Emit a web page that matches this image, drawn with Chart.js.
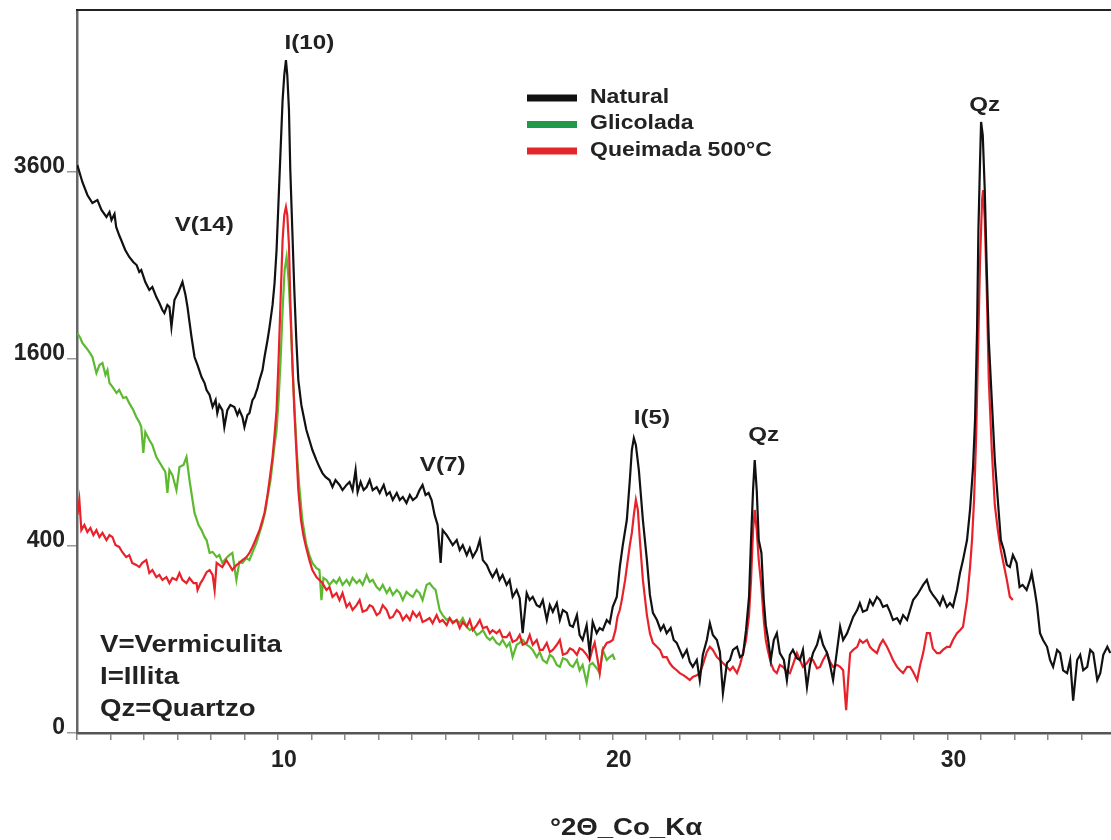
<!DOCTYPE html>
<html>
<head>
<meta charset="utf-8">
<script src="https://cdn.jsdelivr.net/npm/chart.js@4.4.1/dist/chart.umd.min.js"></script>
<style>
html,body{margin:0;padding:0;background:#fff}
canvas{display:block}
</style>
</head>
<body>
<canvas id="myChart" width="1111" height="840"></canvas>
<script>
// 2theta (Co K alpha) and counts
var natTheta = [4.01,4.16,4.31,4.46,4.61,4.73,4.88,4.97,5.03,5.12,5.17,5.26,5.32,5.44,5.56,5.68,5.78,5.86,5.92,6.04,
6.16,6.25,6.37,6.46,6.55,6.61,6.70,6.76,6.82,6.91,7.03,7.15,7.24,7.30,7.36,7.42,7.51,7.60,7.72,7.81,
7.87,7.96,8.05,8.14,8.19,8.25,8.34,8.40,8.49,8.58,8.70,8.79,8.85,8.94,9.00,9.09,9.15,9.24,9.30,9.39,
9.45,9.54,9.60,9.69,9.75,9.84,9.90,9.96,10.02,10.08,10.14,10.19,10.24,10.28,10.33,10.37,10.43,10.49,10.55,10.61,
10.70,10.79,10.85,10.94,11.03,11.15,11.24,11.33,11.42,11.54,11.63,11.72,11.84,11.93,12.05,12.14,12.23,12.32,12.38,12.47,
12.56,12.65,12.74,12.83,12.95,13.04,13.16,13.25,13.34,13.43,13.55,13.64,13.73,13.84,13.94,14.03,14.14,14.23,14.32,14.41,
14.50,14.59,14.68,14.77,14.86,14.92,15.04,15.13,15.22,15.34,15.43,15.52,15.64,15.73,15.82,15.94,16.03,16.12,16.24,16.33,
16.41,16.53,16.62,16.71,16.83,16.92,17.01,17.13,17.22,17.31,17.43,17.52,17.61,17.73,17.82,17.91,18.03,18.12,18.21,18.33,
18.42,18.51,18.63,18.72,18.81,18.93,19.01,19.10,19.22,19.31,19.40,19.52,19.61,19.70,19.82,19.91,20.00,20.12,20.21,20.30,
20.42,20.51,20.57,20.63,20.69,20.78,20.90,21.02,21.11,21.20,21.32,21.43,21.52,21.61,21.73,21.82,21.91,22.00,22.09,22.21,
22.30,22.39,22.51,22.60,22.69,22.81,22.90,22.99,23.11,23.20,23.29,23.41,23.50,23.59,23.71,23.80,23.89,23.98,24.07,24.13,
24.19,24.24,24.30,24.36,24.44,24.51,24.57,24.63,24.72,24.81,24.90,24.99,25.11,25.20,25.29,25.38,25.50,25.59,25.68,25.80,
25.89,25.98,26.10,26.19,26.28,26.40,26.49,26.58,26.70,26.79,26.88,27.00,27.09,27.18,27.30,27.38,27.47,27.59,27.68,27.77,
27.89,27.98,28.07,28.19,28.28,28.37,28.49,28.58,28.67,28.79,28.88,28.97,29.09,29.18,29.27,29.38,29.47,29.56,29.68,29.77,
29.86,29.98,30.07,30.16,30.28,30.37,30.46,30.58,30.67,30.76,30.82,30.88,30.92,30.97,31.00,31.05,31.11,31.17,31.23,31.32,
31.41,31.50,31.59,31.68,31.77,31.86,31.95,32.06,32.15,32.24,32.36,32.46,32.51,32.60,32.67,32.76,32.85,32.97,33.06,33.15,
33.27,33.36,33.45,33.57,33.66,33.75,33.87,33.96,34.05,34.17,34.26,34.35,34.47,34.56,34.65,34.77,34.86];
var natCounts = [3690,3473,3311,3213,3250,3129,3046,3105,3010,3081,2929,2834,2780,2669,2592,2538,2505,2431,2452,2327,
2245,2275,2174,2115,2047,2018,2096,2076,1885,2145,2225,2327,2194,2076,1932,1794,1617,1549,1450,1401,
1346,1307,1216,1268,1171,1231,1193,1071,1193,1231,1216,1157,1193,1142,1071,1157,1171,1268,1291,1361,
1425,1507,1617,1767,1885,2096,2316,2669,3250,3888,4583,4952,5181,4952,4440,3626,2894,2245,1767,1425,
1231,1121,1050,982,916,852,809,773,750,732,692,732,704,675,704,721,675,791,664,721,
675,692,732,675,692,659,704,648,664,621,659,621,637,605,648,621,637,675,704,648,
659,621,544,495,331,471,448,426,404,426,383,404,362,391,354,383,426,342,323,296,
278,304,268,286,251,268,212,234,208,114,224,202,212,187,182,202,146,187,168,193,
146,173,165,133,129,159,110,99,133,73,141,114,126,121,146,138,182,212,315,404,
519,732,916,995,949,791,519,342,218,165,146,121,133,114,126,99,93,79,66,79,
58,50,61,32,70,99,138,110,99,75,18,56,61,79,85,66,70,121,212,426,
675,852,675,426,371,202,133,105,61,99,114,73,61,32,70,79,64,61,79,24,
53,73,89,114,89,73,53,32,79,129,99,114,133,154,173,193,168,173,202,187,
212,202,182,187,168,146,151,138,159,146,173,202,218,234,251,268,234,218,202,187,
212,182,193,182,234,293,342,426,569,809,1121,1858,2894,3756,4271,4091,3373,2452,1767,1268,
852,621,426,383,323,315,362,331,244,251,234,268,293,234,187,114,99,85,61,50,
79,73,45,41,61,12,61,70,45,50,79,73,32,41,70,85,73];

var gliTheta = [4.01,4.10,4.16,4.28,4.37,4.46,4.52,4.58,4.67,4.76,4.85,4.91,4.97,5.06,5.18,5.26,5.38,5.47,5.56,5.68,
5.77,5.86,5.92,5.98,6.04,6.16,6.25,6.37,6.46,6.55,6.64,6.70,6.76,6.85,6.97,7.06,7.18,7.27,7.36,7.45,
7.51,7.63,7.72,7.81,7.87,7.96,8.05,8.17,8.25,8.34,8.46,8.55,8.64,8.76,8.85,8.94,9.06,9.15,9.27,9.36,
9.45,9.54,9.63,9.69,9.78,9.84,9.90,9.96,10.02,10.08,10.14,10.20,10.26,10.32,10.38,10.44,10.50,10.56,10.64,10.73,
10.84,10.94,11.03,11.15,11.24,11.30,11.36,11.45,11.54,11.66,11.75,11.84,11.93,12.05,12.14,12.23,12.35,12.44,12.53,12.65,
12.74,12.83,12.95,13.04,13.13,13.25,13.34,13.43,13.55,13.64,13.73,13.84,13.94,14.03,14.14,14.23,14.32,14.44,14.53,14.62,
14.71,14.77,14.83,14.92,15.04,15.13,15.22,15.34,15.43,15.52,15.64,15.73,15.82,15.94,16.03,16.12,16.24,16.33,16.41,16.53,
16.62,16.71,16.83,16.92,17.01,17.13,17.22,17.31,17.43,17.52,17.61,17.73,17.82,17.91,18.03,18.12,18.21,18.33,18.42,18.51,
18.63,18.72,18.81,18.93,19.01,19.10,19.22,19.31,19.40,19.52,19.61,19.70,19.82,19.91,20.00,20.06];
var gliCounts = [1830,1785,1740,1696,1660,1617,1549,1482,1549,1566,1466,1507,1401,1370,1322,1346,1284,1291,1245,1193,
1142,1106,1071,897,1036,982,949,871,840,809,779,659,791,761,675,809,822,871,732,621,
554,495,471,439,426,371,375,354,362,331,350,362,371,268,335,331,350,342,383,413,
458,504,569,637,732,834,949,1050,1268,1591,2047,2452,2592,2347,1951,1507,1193,916,692,519,
413,362,331,311,304,202,275,268,251,268,257,275,251,268,251,275,257,268,251,286,
261,268,244,234,251,224,240,218,234,224,202,228,218,212,234,224,202,251,257,244,
234,202,173,159,146,151,141,146,138,151,129,121,126,110,114,121,105,99,105,93,
89,99,85,93,66,89,93,99,89,85,79,66,75,61,56,70,66,53,50,64,
61,53,50,61,45,53,29,53,56,48,41,79,61,66,70,61];

var queTheta = [4.01,4.07,4.13,4.22,4.31,4.40,4.49,4.58,4.67,4.76,4.88,4.97,5.06,5.15,5.26,5.35,5.47,5.56,5.65,5.77,
5.86,5.95,6.07,6.16,6.25,6.37,6.46,6.55,6.67,6.76,6.85,6.97,7.06,7.15,7.27,7.36,7.48,7.57,7.60,7.69,
7.75,7.87,7.96,8.05,8.11,8.17,8.25,8.34,8.46,8.55,8.64,8.76,8.85,8.94,9.06,9.15,9.24,9.33,9.45,9.54,
9.60,9.69,9.75,9.84,9.90,9.96,10.02,10.08,10.14,10.19,10.24,10.28,10.33,10.37,10.43,10.49,10.55,10.61,10.69,10.76,
10.84,10.94,11.03,11.15,11.24,11.33,11.45,11.54,11.63,11.75,11.84,11.93,12.05,12.14,12.23,12.35,12.44,12.53,12.65,12.74,
12.83,12.95,13.04,13.13,13.25,13.34,13.43,13.55,13.64,13.73,13.84,13.94,14.03,14.14,14.23,14.32,14.44,14.53,14.62,14.74,
14.83,14.92,15.04,15.13,15.22,15.34,15.43,15.52,15.64,15.73,15.82,15.94,16.03,16.12,16.24,16.33,16.41,16.53,16.62,16.71,
16.83,16.92,17.01,17.13,17.22,17.31,17.43,17.52,17.61,17.73,17.82,17.91,18.03,18.12,18.21,18.33,18.42,18.51,18.63,18.72,
18.81,18.93,19.01,19.10,19.22,19.31,19.40,19.46,19.55,19.61,19.70,19.82,19.91,20.00,20.08,20.14,20.21,20.27,20.37,20.42,
20.51,20.57,20.63,20.69,20.75,20.81,20.90,21.02,21.11,21.20,21.32,21.41,21.50,21.61,21.70,21.79,21.91,22.00,22.12,22.21,
22.30,22.39,22.51,22.60,22.69,22.81,22.90,22.99,23.11,23.20,23.29,23.41,23.50,23.59,23.71,23.80,23.89,23.98,24.07,24.13,
24.19,24.24,24.30,24.36,24.44,24.51,24.57,24.63,24.72,24.81,24.90,24.99,25.08,25.20,25.29,25.38,25.50,25.59,25.68,25.80,
25.89,25.98,26.10,26.19,26.28,26.40,26.49,26.58,26.70,26.79,26.88,26.97,27.03,27.09,27.18,27.30,27.38,27.47,27.59,27.68,
27.77,27.89,27.98,28.07,28.19,28.28,28.37,28.49,28.58,28.67,28.79,28.88,28.97,29.09,29.18,29.27,29.38,29.47,29.56,29.68,
29.77,29.86,29.98,30.07,30.16,30.28,30.37,30.46,30.58,30.67,30.73,30.79,30.85,30.91,30.97,31.03,31.06,31.11,31.17,31.23,
31.32,31.41,31.50,31.59,31.68,31.77,31.86,31.95];
var queCounts = [544,621,471,495,462,481,448,471,439,458,426,448,439,404,396,375,354,362,331,323,
315,331,342,293,304,278,286,268,278,257,275,268,293,268,257,275,257,257,234,257,
268,296,304,286,234,331,323,315,342,323,304,323,331,342,354,371,396,426,471,519,
554,648,732,871,1016,1193,1591,2145,2780,3069,3165,3069,2724,2145,1591,1193,916,675,519,448,
396,342,304,278,268,257,234,244,212,224,202,224,182,193,173,187,202,168,173,187,
182,159,165,187,173,151,154,173,165,146,159,146,168,154,165,141,146,151,138,159,
141,146,133,151,138,146,126,141,129,146,121,133,146,126,129,114,121,114,121,105,
105,114,95,99,110,89,93,110,89,99,79,79,93,75,79,89,99,70,73,82,
79,70,82,79,70,61,82,93,61,41,79,93,95,99,121,154,173,202,268,315,
404,458,544,621,569,426,268,159,114,93,85,79,66,66,56,50,45,41,38,35,
32,36,38,41,53,75,85,79,66,61,56,50,45,50,41,53,73,99,159,268,
471,569,471,342,244,146,99,79,56,45,41,53,50,43,41,53,73,61,50,56,
64,61,48,50,61,73,58,50,53,50,45,6,32,73,79,85,99,93,99,85,
79,73,89,99,85,73,61,50,45,41,50,50,43,32,53,73,114,114,82,73,
73,79,85,85,99,114,121,129,202,315,426,621,982,1678,2559,3250,3373,3010,2245,1425,
916,595,471,383,323,268,212,202];

var seriesNames = ['Natural', 'Glicolada', 'Queimada 500°C'];
var lineColors = ['#111111', '#5cb930', '#e8222a'];
var legendColors = ['#111111', '#1f9a4a', '#e3262b'];

// y axis is square-root of counts, labelled in counts
var yTickCounts = [0, 400, 1600, 3600];
var xTickLabels = [10, 20, 30];

// peak labels: text, 2theta, counts at the text centre
var peakText = ['I(10)', 'V(14)', 'V(7)', 'I(5)', 'Qz', 'Qz'];
var peakTheta = [10.94, 7.80, 14.92, 21.17, 24.51, 31.11];
var peakCounts = [5446, 2952, 822, 1135, 1016, 4512];

var notes = ['V=Vermiculita', 'I=Illita', 'Qz=Quartzo'];

function toPoints(th, cts) {
    var out = [];
    for (var i = 0; i < th.length; i++) {
        out.push({x: th[i], y: Math.sqrt(cts[i])});
    }
    return out;
}

var FONT = '"Liberation Sans", Arial, Helvetica, sans-serif';

function wideText(ctx, str, x, y, size, align, base) {
    ctx.save();
    ctx.font = 'bold ' + size + 'px ' + FONT;
    ctx.fillStyle = '#222';
    ctx.translate(x, y);
    ctx.scale(1.15, 1);
    ctx.textAlign = align;
    ctx.textBaseline = base;
    ctx.fillText(str, 0, 0);
    ctx.restore();
}

var decor = {
    id: 'decor',
    afterDraw: function(chart) {
        var ctx = chart.ctx, a = chart.chartArea;
        var xs = chart.scales.x, ys = chart.scales.y;
        // top frame line
        ctx.save();
        ctx.strokeStyle = '#222';
        ctx.lineWidth = 2;
        ctx.beginPath();
        ctx.moveTo(a.left - 1, a.top);
        ctx.lineTo(a.right, a.top);
        ctx.stroke();
        ctx.restore();

        // legend
        for (var i = 0; i < seriesNames.length; i++) {
            var ly = 98 + i * 26.5;
            ctx.save();
            ctx.strokeStyle = legendColors[i];
            ctx.lineWidth = 7;
            ctx.beginPath();
            ctx.moveTo(527, ly);
            ctx.lineTo(577, ly);
            ctx.stroke();
            ctx.restore();
            wideText(ctx, seriesNames[i], 590, ly - 1, 20, 'left', 'middle');
        }

        // peak labels
        for (var j = 0; j < peakText.length; j++) {
            wideText(ctx, peakText[j], xs.getPixelForValue(peakTheta[j]),
                ys.getPixelForValue(Math.sqrt(peakCounts[j])), 21, 'center', 'middle');
        }

        // mineral key
        for (var k = 0; k < notes.length; k++) {
            wideText(ctx, notes[k], 100, 652 + k * 32, 24, 'left', 'alphabetic');
        }

        // axis title
        wideText(ctx, '°2Θ_Co_Kα', 626, 828, 24, 'center', 'middle');
    }
};

var data = {
    datasets: [
        {label: seriesNames[0], data: toPoints(natTheta, natCounts), borderColor: lineColors[0], order: 0},
        {label: seriesNames[1], data: toPoints(gliTheta, gliCounts), borderColor: lineColors[1], order: 2},
        {label: seriesNames[2], data: toPoints(queTheta, queCounts), borderColor: lineColors[2], order: 1}
    ]
};
data.datasets.forEach(function(d) {
    d.borderWidth = 2.2;
    d.pointRadius = 0;
    d.tension = 0;
    d.fill = false;
});

var config = {
    type: 'line',
    data: data,
    options: {
        responsive: false,
        animation: false,
        layout: {padding: {top: 10, right: 0, left: 0, bottom: 0}},
        plugins: {
            legend: {display: false},
            tooltip: {enabled: false}
        },
        scales: {
            x: {
                type: 'linear',
                min: 4,
                max: 34.88,
                ticks: {
                    stepSize: 1,
                    includeBounds: false,
                    autoSkip: false,
                    maxRotation: 0,
                    labelOffset: 6,
                    padding: 7,
                    color: '#222',
                    font: {family: FONT, size: 23, weight: 'bold'},
                    callback: function(v) {
                        return xTickLabels.indexOf(v) >= 0 ? String(v) : '';
                    }
                },
                grid: {drawOnChartArea: false, drawTicks: true, tickLength: 7, color: '#888', lineWidth: 1.5},
                border: {display: true, color: '#555', width: 2.5},
                afterFit: function(s) {
                    s.height = 107;
                    s.paddingLeft = 0;
                    s.paddingRight = 0;
                }
            },
            y: {
                type: 'linear',
                min: 0,
                max: 77.33,
                ticks: {
                    stepSize: 20,
                    includeBounds: false,
                    padding: 2,
                    labelOffset: -5,
                    color: '#222',
                    font: {family: FONT, size: 23, weight: 'bold'},
                    callback: function(v) {
                        var c = Math.round(v * v);
                        return yTickCounts.indexOf(c) >= 0 ? String(c) : '';
                    }
                },
                grid: {drawOnChartArea: false, drawTicks: true, tickLength: 10, color: '#999', lineWidth: 1.5},
                border: {display: true, color: '#666', width: 2.5},
                afterFit: function(s) {
                    s.width = 77;
                    s.paddingTop = 0;
                    s.paddingBottom = 0;
                }
            }
        }
    },
    plugins: [decor]
};

var myChart = new Chart(document.getElementById('myChart'), config);
</script>
</body>
</html>
